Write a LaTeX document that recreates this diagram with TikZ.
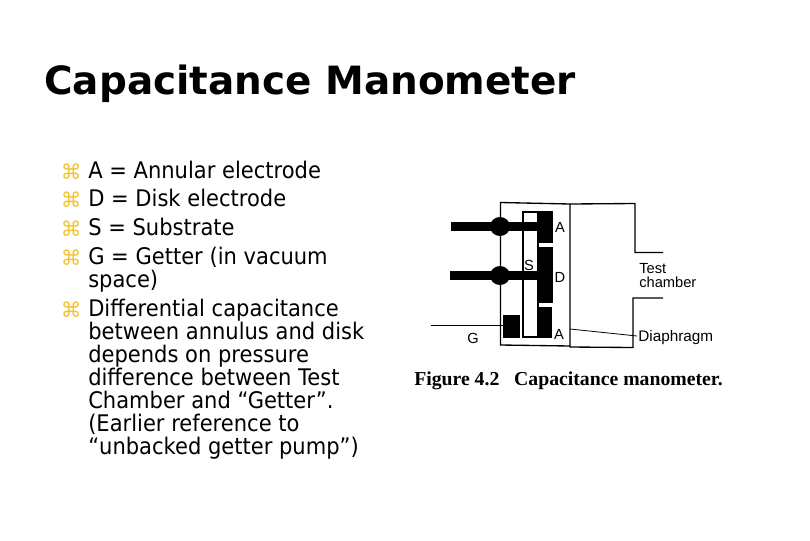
\documentclass[tikz,border=0pt]{standalone}
\usepackage{fontspec}
\setmainfont{DejaVu Sans}
\newfontfamily\bodyfont[FakeStretch=0.92]{DejaVu Sans}
\newfontfamily\captionfont{Liberation Serif}
\newfontfamily\labelfont{Liberation Sans}
\definecolor{bulletyellow}{HTML}{F2C230}
\tikzset{
  bullet/.style={anchor=base west,inner sep=0pt,text=bulletyellow,font=\fontsize{15.5}{15}\selectfont},
  item/.style={anchor=north west,inner sep=0pt,align=left,font=\bodyfont\fontsize{17.15}{17.25}\selectfont},
  part/.style={fill=black,draw=none},
  wall/.style={line width=1pt},
  tag/.style={inner sep=0pt,align=left,font=\labelfont\fontsize{11}{10.5}\selectfont},
}
\begin{document}
\begin{tikzpicture}[x=0.75pt,y=-0.75pt]
  \useasboundingbox (0,0) rectangle (810,540);
  \node[anchor=base west,inner sep=0pt,font=\bfseries\fontsize{29.2}{29}\selectfont] (title) at (44,94) {Capacitance Manometer};
  % bullets
  \node[bullet] (b1) at (60.5,179) {⌘};
  \node[bullet] (b2) at (60.5,207) {⌘};
  \node[bullet] (b3) at (60.5,236) {⌘};
  \node[bullet] (b4) at (60.5,265) {⌘};
  \node[bullet] (b5) at (60.5,317) {⌘};
  \node[item] (annular) at (88,161) {A = Annular electrode};
  \node[item] (disk) at (88,189) {D = Disk electrode};
  \node[item] (substrate) at (88,218) {S = Substrate};
  \node[item] (getter) at (88,247) {G = Getter (in vacuum\\space)};
  \node[item] (differential) at (88,299) {Differential capacitance\\between annulus and disk\\depends on pressure\\difference between Test\\Chamber and “Getter”.\\(Earlier reference to\\“unbacked getter pump”)};
  % figure
  \draw[wall] (570,204) -- (500.5,202.5) -- (500.5,345) -- (570,346);
  \draw[wall] (570,204) -- (635,203.5) -- (635,252.5) -- (663,252.5);
  \draw[wall] (570,204) -- (570,347) -- (633,347.5) -- (633,298) -- (663,298);
  \draw[wall] (523,212) rectangle (538,337);
  \draw[part] (538,211) rectangle (553,243);
  \draw[part] (537,247) rectangle (553,303);
  \draw[part] (537,307) rectangle (552,338);
  \draw[part] (503,315) rectangle (520,338);
  \draw[part] (451,222) rectangle (538,231);
  \draw[part] (450,271) rectangle (538,280);
  \fill (500,226.5) ellipse (10 and 9.5);
  \fill (500,275.5) ellipse (10 and 9.5);
  \coordinate (gend) at (431,325.5);
  \coordinate (gpad) at (503,325.5);
  \draw[line width=0.6pt] (gend) -- (gpad);
  \coordinate (diaA) at (570,329);
  \coordinate (diaB) at (637,336);
  \draw[line width=0.6pt] (diaA) -- (diaB);
  \node[tag] (a1) at (560,227) {A};
  \node[tag] (s) at (529,265) {S};
  \node[tag] (d) at (560,277) {D};
  \node[tag] (g) at (473,338) {G};
  \node[tag] (a2) at (559,334) {A};
  \node[tag,anchor=west] (test) at (639,276) {Test\\chamber};
  \node[tag,anchor=west,font=\labelfont\fontsize{11.5}{11}\selectfont] (diaphragm) at (638,338) {Diaphragm};
  \node[anchor=base west,inner sep=0pt,font=\captionfont\bfseries\fontsize{14.8}{14}\selectfont] (caption) at (414,385) {Figure 4.2\hspace{0.75em}Capacitance manometer.};
\end{tikzpicture}
\end{document}
